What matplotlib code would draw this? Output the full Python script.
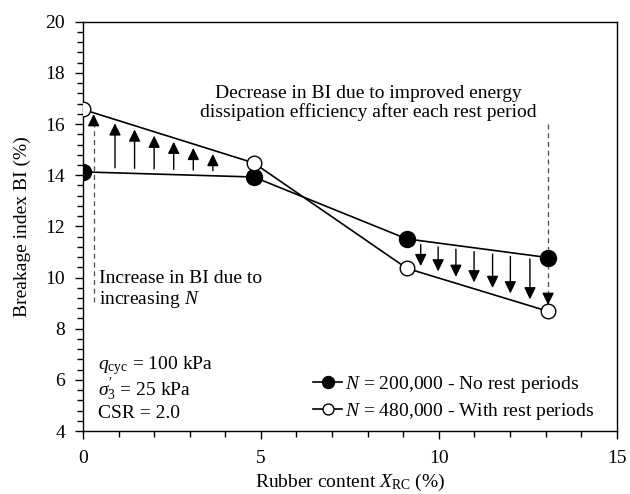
import numpy as np
import matplotlib
matplotlib.use("Agg")
import matplotlib.pyplot as plt
from matplotlib.ticker import MultipleLocator

plt.rcParams['font.family'] = ['Liberation Serif', 'DejaVu Serif']
plt.rcParams['mathtext.fontset'] = 'custom'
plt.rcParams['mathtext.rm'] = 'Liberation Serif'
plt.rcParams['mathtext.it'] = 'Liberation Serif:italic'
plt.rcParams['mathtext.bf'] = 'Liberation Serif:bold'

# data
rubber = [0.0, 4.8, 9.1, 13.07]
bi_no_rest = [14.13, 13.93, 11.51, 10.78]
bi_rest = [16.57, 14.48, 10.36, 8.68]
labels = [r'$N$ = 200,000 - No rest periods', r'$N$ = 480,000 - With rest periods']

up_x = [0.9, 1.45, 2.0, 2.55, 3.1, 3.65]
down_x = [9.49, 9.98, 10.48, 10.99, 11.51, 12.01, 12.56]

FS = 14
fig = plt.figure(figsize=(6.3, 4.94), dpi=100)
ax = fig.add_axes([0.1317, 0.1275, 0.8473, 0.8285])

ax.plot(rubber, bi_no_rest, '-o', color='black', lw=1.2, ms=11.5,
        mfc='black', mec='black', label=labels[0], zorder=3)
ax.plot(rubber, bi_rest, '-o', color='black', lw=1.2, ms=10.5,
        mfc='white', mec='black', mew=1.0, label=labels[1], zorder=3)

# arrows between series
arrow_kw = dict(arrowstyle='-|>,head_length=0.45,head_width=0.22',
                mutation_scale=16, color='black', lw=1.0, shrinkA=0, shrinkB=0)
for x in up_x:
    y0 = np.interp(x, rubber, bi_no_rest) + 0.2
    y1 = np.interp(x, rubber, bi_rest) - 0.15
    ax.annotate('', xy=(x, y1), xytext=(x, y0), arrowprops=arrow_kw)
for x in down_x:
    y0 = np.interp(x, rubber, bi_no_rest) - 0.15
    y1 = np.interp(x, rubber, bi_rest) + 0.25
    ax.annotate('', xy=(x, y1), xytext=(x, y0), arrowprops=arrow_kw)

# dashed indicator arrows
xl = 0.3
ax.plot([xl, xl], [9.05, np.interp(xl, rubber, bi_rest) - 0.4], color='0.3',
        lw=0.9, dashes=(4, 3), zorder=2)
ax.annotate('', xy=(xl, np.interp(xl, rubber, bi_rest) - 0.05),
            xytext=(xl, np.interp(xl, rubber, bi_rest) - 0.5),
            arrowprops=arrow_kw)
xr = rubber[-1]
ax.plot([xr, xr], [16.0, bi_rest[-1] + 0.6], color='0.3', lw=0.9,
        dashes=(4, 3), zorder=2)
ax.annotate('', xy=(xr, bi_rest[-1] + 0.25), xytext=(xr, bi_rest[-1] + 0.7),
            arrowprops=arrow_kw)

# texts
ax.text(8.03, 16.82, 'Decrease in BI due to improved energy\n'
        'dissipation efficiency after each rest period',
        ha='center', va='center', multialignment='center', fontsize=FS,
        linespacing=1.12)
ax.text(0.45, 9.52, 'Increase in BI due to\nincreasing $N$', ha='left',
        va='center', fontsize=FS, linespacing=1.12)
ax.text(0.42, 6.57, r'$q_{\mathrm{cyc}}$ = 100 kPa', ha='left', va='center', fontsize=FS)
ax.text(0.42, 5.63, r"$\sigma_3^{\prime}$ = 25 kPa", ha='left', va='center', fontsize=FS)
ax.text(0.42, 4.69, 'CSR = 2.0', ha='left', va='center', fontsize=FS)

ax.set_xlim(0, 15)
ax.set_ylim(4, 20)
ax.xaxis.set_major_locator(MultipleLocator(5))
ax.xaxis.set_minor_locator(MultipleLocator(1))
ax.yaxis.set_major_locator(MultipleLocator(2))
ax.yaxis.set_minor_locator(MultipleLocator(0.4))
ax.tick_params(which='both', direction='out', top=False, right=False,
               labelsize=FS, width=1.0)
ax.tick_params(which='major', length=6)
ax.tick_params(which='minor', length=4)
ax.tick_params(axis='x', pad=8)
ax.tick_params(axis='y', pad=7)
for s in ax.spines.values():
    s.set_linewidth(1.0)

ax.set_xlabel(r'Rubber content $X_{\mathrm{RC}}$ (%)', fontsize=FS)
ax.set_ylabel('Breakage index BI (%)', fontsize=FS)
ax.xaxis.set_label_coords(0.5, -0.1)
ax.yaxis.set_label_coords(-0.097, 0.5)

leg = ax.legend(loc='lower left', bbox_to_anchor=(0.431, 0.022), frameon=False,
                fontsize=FS, handlelength=1.5, handletextpad=0.15,
                labelspacing=0.3, borderpad=0, borderaxespad=0, markerscale=0.75)

fig.savefig('out.png', dpi=100)
